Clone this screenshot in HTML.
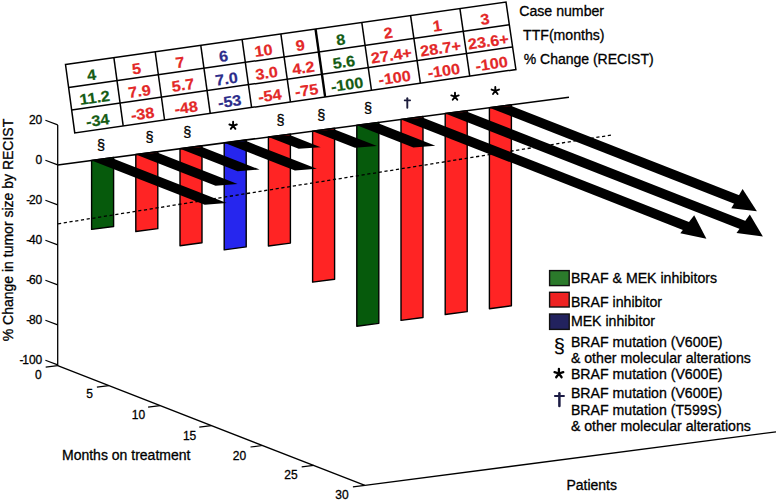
<!DOCTYPE html>
<html><head><meta charset="utf-8"><style>
html,body{margin:0;padding:0;background:#fff;width:778px;height:500px;overflow:hidden}
svg{display:block}
text{font-family:"Liberation Sans",sans-serif;stroke:#000;stroke-width:0.3px}
</style></head><body>
<svg width="778" height="500" viewBox="0 0 778 500">
<rect width="778" height="500" fill="#fff"/>
<line x1="57.7" y1="124.9" x2="57.7" y2="365.9" stroke="#000" stroke-width="1.3"/>
<line x1="45.4" y1="120.3" x2="57.7" y2="124.9" stroke="#000" stroke-width="1.2"/>
<text x="42.3" y="124.3" font-size="12" text-anchor="end">20</text>
<line x1="45.4" y1="160.3" x2="57.7" y2="164.9" stroke="#000" stroke-width="1.2"/>
<text x="42.3" y="164.3" font-size="12" text-anchor="end">0</text>
<line x1="45.4" y1="200.3" x2="57.7" y2="204.9" stroke="#000" stroke-width="1.2"/>
<text x="42.3" y="204.3" font-size="12" text-anchor="end">-<tspan dx="-1.2">20</tspan></text>
<line x1="45.4" y1="240.3" x2="57.7" y2="244.9" stroke="#000" stroke-width="1.2"/>
<text x="42.3" y="244.3" font-size="12" text-anchor="end">-<tspan dx="-1.2">40</tspan></text>
<line x1="45.4" y1="280.3" x2="57.7" y2="284.9" stroke="#000" stroke-width="1.2"/>
<text x="42.3" y="284.3" font-size="12" text-anchor="end">-<tspan dx="-1.2">60</tspan></text>
<line x1="45.4" y1="320.3" x2="57.7" y2="324.9" stroke="#000" stroke-width="1.2"/>
<text x="42.3" y="324.3" font-size="12" text-anchor="end">-<tspan dx="-1.2">80</tspan></text>
<line x1="45.4" y1="360.3" x2="57.7" y2="364.9" stroke="#000" stroke-width="1.2"/>
<text x="42.3" y="364.3" font-size="12" text-anchor="end">-<tspan dx="-1.2">100</tspan></text>
<line x1="57.7" y1="365.7" x2="364.9" y2="485.4" stroke="#000" stroke-width="1.3"/>
<line x1="45.7" y1="367.2" x2="57.7" y2="365.7" stroke="#000" stroke-width="1.2"/>
<line x1="96.9" y1="387.15" x2="108.9" y2="385.65" stroke="#000" stroke-width="1.2"/>
<line x1="148.1" y1="407.1" x2="160.1" y2="405.6" stroke="#000" stroke-width="1.2"/>
<line x1="199.3" y1="427.05" x2="211.3" y2="425.55" stroke="#000" stroke-width="1.2"/>
<line x1="250.5" y1="447" x2="262.5" y2="445.5" stroke="#000" stroke-width="1.2"/>
<line x1="301.7" y1="466.95" x2="313.7" y2="465.45" stroke="#000" stroke-width="1.2"/>
<line x1="352.9" y1="486.9" x2="364.9" y2="485.4" stroke="#000" stroke-width="1.2"/>
<text x="38.3" y="378.5" font-size="12" text-anchor="middle">0</text>
<text x="89.6" y="398.3" font-size="12" text-anchor="middle">5</text>
<text x="138.5" y="418.9" font-size="12" text-anchor="middle">10</text>
<text x="189.6" y="439.9" font-size="12" text-anchor="middle">15</text>
<text x="239.5" y="459.8" font-size="12" text-anchor="middle">20</text>
<text x="290.9" y="479.3" font-size="12" text-anchor="middle">25</text>
<text x="341.9" y="498.8" font-size="12" text-anchor="middle">30</text>
<line x1="364.9" y1="485.4" x2="776" y2="431.79" stroke="#000" stroke-width="1.3"/>
<polygon points="91.6,160.41 113.6,157.49 113.6,226.49 91.6,229.41" fill="#065a0c" stroke="#000" stroke-width="1.4" stroke-linejoin="round"/>
<polygon points="135.8,154.55 157.8,151.64 157.8,228.64 135.8,231.55" fill="#ff2424" stroke="#000" stroke-width="1.4" stroke-linejoin="round"/>
<polygon points="180,148.7 202,145.78 202,242.78 180,245.7" fill="#ff2424" stroke="#000" stroke-width="1.4" stroke-linejoin="round"/>
<polygon points="224.2,142.84 246.2,139.92 246.2,246.92 224.2,249.84" fill="#2626ee" stroke="#000" stroke-width="1.4" stroke-linejoin="round"/>
<polygon points="268.4,136.98 290.4,134.07 290.4,243.07 268.4,245.98" fill="#ff2424" stroke="#000" stroke-width="1.4" stroke-linejoin="round"/>
<polygon points="312.6,131.13 334.6,128.21 334.6,279.21 312.6,282.13" fill="#ff2424" stroke="#000" stroke-width="1.4" stroke-linejoin="round"/>
<polygon points="356.8,125.27 378.8,122.35 378.8,323.35 356.8,326.27" fill="#065a0c" stroke="#000" stroke-width="1.4" stroke-linejoin="round"/>
<polygon points="401,119.41 423,116.5 423,317.5 401,320.41" fill="#ff2424" stroke="#000" stroke-width="1.4" stroke-linejoin="round"/>
<polygon points="445.2,113.56 467.2,110.64 467.2,311.64 445.2,314.56" fill="#ff2424" stroke="#000" stroke-width="1.4" stroke-linejoin="round"/>
<polygon points="489.4,107.7 511.4,104.78 511.4,305.78 489.4,308.7" fill="#ff2424" stroke="#000" stroke-width="1.4" stroke-linejoin="round"/>
<line x1="58" y1="223.8" x2="613" y2="134.8" stroke="#000" stroke-width="1.3" stroke-dasharray="3.2 2.6"/>
<line x1="57.7" y1="164.9" x2="569" y2="97.15" stroke="#000" stroke-width="1.5"/>
<polygon points="91.6,160.41 113.6,158.69 226.72,203.05 204.72,204.76" fill="#000"/>
<polygon points="135.8,154.55 157.8,152.84 237.59,184.12 215.59,185.84" fill="#000"/>
<polygon points="180,148.7 202,146.98 259.57,169.55 237.57,171.27" fill="#000"/>
<polygon points="224.2,142.84 246.2,141.12 316.9,168.84 294.9,170.56" fill="#000"/>
<polygon points="268.4,136.98 290.4,135.27 320.7,147.15 298.7,148.86" fill="#000"/>
<polygon points="312.6,131.13 334.6,129.41 377.02,146.04 355.02,147.76" fill="#000"/>
<polygon points="356.8,125.27 378.8,123.55 435.36,145.73 413.36,147.45" fill="#000"/>
<polygon points="401,119.41 423,117.7 696,224.73 689.87,232.67" fill="#000"/>
<polygon points="445.2,113.56 467.2,111.84 752.02,223.52 746.25,231.59" fill="#000"/>
<polygon points="489.4,107.7 511.4,105.98 745.65,197.83 740.71,206.23" fill="#000"/>
<polygon points="742.6,189.1 731.3,208.3 756.9,211.2" fill="#000"/>
<polygon points="749.8,214.5 736.5,233.1 762.9,236.6" fill="#000"/>
<polygon points="694.2,215.3 680.3,233.3 706.4,238.7" fill="#000"/>
<text x="101" y="149.6" font-size="14.5" text-anchor="middle">§</text>
<text x="149.6" y="142.4" font-size="14.5" text-anchor="middle">§</text>
<text x="187.2" y="136.8" font-size="14.5" text-anchor="middle">§</text>
<path d="M233.1,125.7L233.1,121.8M233.1,125.7L236.81,124.49M233.1,125.7L235.39,128.86M233.1,125.7L230.81,128.86M233.1,125.7L229.39,124.49" stroke="#000" stroke-width="1.9" stroke-linecap="round" fill="none"/>
<text x="280.5" y="124.8" font-size="14.5" text-anchor="middle">§</text>
<text x="321.2" y="119.7" font-size="14.5" text-anchor="middle">§</text>
<text x="368" y="113.2" font-size="14.5" text-anchor="middle">§</text>
<path d="M407.3,98.3V107.7" stroke="#1c1c3c" stroke-width="1.9" stroke-linecap="round"/><path d="M404.6,100.4H410.2" stroke="#1c1c3c" stroke-width="1.6" stroke-linecap="round"/>
<path d="M455,96.6L455,92.7M455,96.6L458.71,95.39M455,96.6L457.29,99.76M455,96.6L452.71,99.76M455,96.6L451.29,95.39" stroke="#000" stroke-width="1.9" stroke-linecap="round" fill="none"/>
<path d="M495.3,90.8L495.3,86.9M495.3,90.8L499.01,89.59M495.3,90.8L497.59,93.96M495.3,90.8L493.01,93.96M495.3,90.8L491.59,89.59" stroke="#000" stroke-width="1.9" stroke-linecap="round" fill="none"/>
<polygon points="65.5,64.5 506,2 515.9,69.5 74.75,132.9" fill="#fff" stroke="#000" stroke-width="1.5" stroke-linejoin="miter"/>
<line x1="68.62" y1="87.55" x2="509.34" y2="24.75" stroke="#000" stroke-width="1.5"/>
<line x1="71.65" y1="109.99" x2="512.58" y2="46.89" stroke="#000" stroke-width="1.5"/>
<line x1="113.87" y1="57.64" x2="123.19" y2="125.94" stroke="#000" stroke-width="1.5"/>
<line x1="155.19" y1="51.77" x2="164.57" y2="119.99" stroke="#000" stroke-width="1.5"/>
<line x1="200.78" y1="45.31" x2="210.23" y2="113.43" stroke="#000" stroke-width="1.5"/>
<line x1="242.1" y1="39.44" x2="251.61" y2="107.48" stroke="#000" stroke-width="1.5"/>
<line x1="280.86" y1="33.94" x2="290.43" y2="101.9" stroke="#000" stroke-width="1.5"/>
<line x1="315.53" y1="29.02" x2="325.15" y2="96.91" stroke="#000" stroke-width="2.4"/>
<line x1="361.78" y1="22.46" x2="371.47" y2="90.26" stroke="#000" stroke-width="1.5"/>
<line x1="410.59" y1="15.54" x2="420.35" y2="83.23" stroke="#000" stroke-width="1.5"/>
<line x1="459.92" y1="8.54" x2="469.76" y2="76.13" stroke="#000" stroke-width="1.5"/>
<text transform="matrix(1.07,-0.1521,0.1359,1,91.25,72.59)" x="0" y="7.6" font-size="15" font-weight="bold" fill="#145c14" style="stroke:#145c14;stroke-width:0.2px" text-anchor="middle">4</text>
<text transform="matrix(1.07,-0.1528,0.1359,1,94.34,95.31)" x="0" y="7.6" font-size="15" font-weight="bold" fill="#145c14" style="stroke:#145c14;stroke-width:0.2px" text-anchor="middle">11.2</text>
<text transform="matrix(1.07,-0.1534,0.1359,1,97.41,117.97)" x="0" y="7.6" font-size="15" font-weight="bold" fill="#145c14" style="stroke:#145c14;stroke-width:0.2px" text-anchor="middle">-34</text>
<text transform="matrix(1.07,-0.1521,0.1370,1,136.10,66.21)" x="0" y="7.6" font-size="15" font-weight="bold" fill="#e32828" style="stroke:#e32828;stroke-width:0.2px" text-anchor="middle">5</text>
<text transform="matrix(1.07,-0.1528,0.1370,1,139.21,88.90)" x="0" y="7.6" font-size="15" font-weight="bold" fill="#e32828" style="stroke:#e32828;stroke-width:0.2px" text-anchor="middle">7.9</text>
<text transform="matrix(1.07,-0.1534,0.1370,1,142.31,111.53)" x="0" y="7.6" font-size="15" font-weight="bold" fill="#e32828" style="stroke:#e32828;stroke-width:0.2px" text-anchor="middle">-38</text>
<text transform="matrix(1.07,-0.1521,0.1381,1,179.57,60.03)" x="0" y="7.6" font-size="15" font-weight="bold" fill="#e32828" style="stroke:#e32828;stroke-width:0.2px" text-anchor="middle">7</text>
<text transform="matrix(1.07,-0.1528,0.1381,1,182.70,82.69)" x="0" y="7.6" font-size="15" font-weight="bold" fill="#e32828" style="stroke:#e32828;stroke-width:0.2px" text-anchor="middle">5.7</text>
<text transform="matrix(1.07,-0.1534,0.1381,1,185.82,105.29)" x="0" y="7.6" font-size="15" font-weight="bold" fill="#e32828" style="stroke:#e32828;stroke-width:0.2px" text-anchor="middle">-48</text>
<text transform="matrix(1.07,-0.1521,0.1392,1,223.03,53.85)" x="0" y="7.6" font-size="15" font-weight="bold" fill="#2c2c8a" style="stroke:#2c2c8a;stroke-width:0.2px" text-anchor="middle">6</text>
<text transform="matrix(1.07,-0.1528,0.1392,1,226.19,76.48)" x="0" y="7.6" font-size="15" font-weight="bold" fill="#2c2c8a" style="stroke:#2c2c8a;stroke-width:0.2px" text-anchor="middle">7.0</text>
<text transform="matrix(1.07,-0.1534,0.1392,1,229.33,99.05)" x="0" y="7.6" font-size="15" font-weight="bold" fill="#2c2c8a" style="stroke:#2c2c8a;stroke-width:0.2px" text-anchor="middle">-53</text>
<text transform="matrix(1.07,-0.1521,0.1403,1,263.09,48.15)" x="0" y="7.6" font-size="15" font-weight="bold" fill="#e32828" style="stroke:#e32828;stroke-width:0.2px" text-anchor="middle">10</text>
<text transform="matrix(1.07,-0.1528,0.1403,1,266.26,70.76)" x="0" y="7.6" font-size="15" font-weight="bold" fill="#e32828" style="stroke:#e32828;stroke-width:0.2px" text-anchor="middle">3.0</text>
<text transform="matrix(1.07,-0.1534,0.1403,1,269.42,93.30)" x="0" y="7.6" font-size="15" font-weight="bold" fill="#e32828" style="stroke:#e32828;stroke-width:0.2px" text-anchor="middle">-54</text>
<text transform="matrix(1.07,-0.1521,0.1412,1,299.81,42.93)" x="0" y="7.6" font-size="15" font-weight="bold" fill="#e32828" style="stroke:#e32828;stroke-width:0.2px" text-anchor="middle">9</text>
<text transform="matrix(1.07,-0.1528,0.1412,1,303.00,65.51)" x="0" y="7.6" font-size="15" font-weight="bold" fill="#e32828" style="stroke:#e32828;stroke-width:0.2px" text-anchor="middle">4.2</text>
<text transform="matrix(1.07,-0.1534,0.1412,1,306.18,88.03)" x="0" y="7.6" font-size="15" font-weight="bold" fill="#e32828" style="stroke:#e32828;stroke-width:0.2px" text-anchor="middle">-75</text>
<text transform="matrix(1.07,-0.1521,0.1423,1,340.28,37.18)" x="0" y="7.6" font-size="15" font-weight="bold" fill="#145c14" style="stroke:#145c14;stroke-width:0.2px" text-anchor="middle">8</text>
<text transform="matrix(1.07,-0.1528,0.1423,1,343.49,59.73)" x="0" y="7.6" font-size="15" font-weight="bold" fill="#145c14" style="stroke:#145c14;stroke-width:0.2px" text-anchor="middle">5.6</text>
<text transform="matrix(1.07,-0.1534,0.1423,1,346.69,82.22)" x="0" y="7.6" font-size="15" font-weight="bold" fill="#145c14" style="stroke:#145c14;stroke-width:0.2px" text-anchor="middle">-100</text>
<text transform="matrix(1.07,-0.1521,0.1435,1,387.82,30.41)" x="0" y="7.6" font-size="15" font-weight="bold" fill="#e32828" style="stroke:#e32828;stroke-width:0.2px" text-anchor="middle">2</text>
<text transform="matrix(1.07,-0.1528,0.1435,1,391.06,52.94)" x="0" y="7.6" font-size="15" font-weight="bold" fill="#e32828" style="stroke:#e32828;stroke-width:0.2px" text-anchor="middle">27.4+</text>
<text transform="matrix(1.07,-0.1534,0.1435,1,394.28,75.40)" x="0" y="7.6" font-size="15" font-weight="bold" fill="#e32828" style="stroke:#e32828;stroke-width:0.2px" text-anchor="middle">-100</text>
<text transform="matrix(1.07,-0.1521,0.1448,1,436.91,23.44)" x="0" y="7.6" font-size="15" font-weight="bold" fill="#e32828" style="stroke:#e32828;stroke-width:0.2px" text-anchor="middle">1</text>
<text transform="matrix(1.07,-0.1528,0.1448,1,440.16,45.93)" x="0" y="7.6" font-size="15" font-weight="bold" fill="#e32828" style="stroke:#e32828;stroke-width:0.2px" text-anchor="middle">28.7+</text>
<text transform="matrix(1.07,-0.1534,0.1448,1,443.41,68.35)" x="0" y="7.6" font-size="15" font-weight="bold" fill="#e32828" style="stroke:#e32828;stroke-width:0.2px" text-anchor="middle">-100</text>
<text transform="matrix(1.07,-0.1521,0.1461,1,484.62,16.65)" x="0" y="7.6" font-size="15" font-weight="bold" fill="#e32828" style="stroke:#e32828;stroke-width:0.2px" text-anchor="middle">3</text>
<text transform="matrix(1.07,-0.1528,0.1461,1,487.90,39.11)" x="0" y="7.6" font-size="15" font-weight="bold" fill="#e32828" style="stroke:#e32828;stroke-width:0.2px" text-anchor="middle">23.6+</text>
<text transform="matrix(1.07,-0.1534,0.1461,1,491.18,61.50)" x="0" y="7.6" font-size="15" font-weight="bold" fill="#e32828" style="stroke:#e32828;stroke-width:0.2px" text-anchor="middle">-100</text>
<text x="519.2" y="15.8" font-size="14.15">Case number</text>
<text x="523.1" y="39.5" font-size="14.1">TTF(months)</text>
<text x="523.7" y="63.6" font-size="14">% Change (RECIST)</text>
<text transform="translate(13.2,341.3) rotate(-90)" font-size="14">% Change in tumor size by RECIST</text>
<text x="62" y="460.2" font-size="14">Months on treatment</text>
<text x="566.4" y="490.2" font-size="14">Patients</text>
<rect x="549.6" y="270.6" width="19.6" height="15" fill="#2b7a2b" stroke="#111" stroke-width="1.4"/>
<rect x="549.6" y="292.3" width="19.6" height="14.7" fill="#ee2222" stroke="#111" stroke-width="1.4"/>
<rect x="549.6" y="314" width="19.6" height="15.4" fill="#22225e" stroke="#111" stroke-width="1.4"/>
<text x="570.9" y="282.9" font-size="14.15">BRAF &amp; MEK inhibitors</text>
<text x="570.9" y="307" font-size="14.15">BRAF inhibitor</text>
<text x="570.9" y="325.5" font-size="14.15">MEK inhibitor</text>
<text x="570.9" y="347.1" font-size="14.15">BRAF mutation (V600E)</text>
<text x="570.9" y="363.3" font-size="14.15">&amp; other molecular alterations</text>
<text x="570.9" y="378.8" font-size="14.15">BRAF mutation (V600E)</text>
<text x="570.9" y="397.6" font-size="14.15">BRAF mutation (V600E)</text>
<text x="570.9" y="414.8" font-size="14.15">BRAF mutation (T599S)</text>
<text x="570.9" y="431" font-size="14.15">&amp; other molecular alterations</text>
<text x="559.3" y="353.4" font-size="20" text-anchor="middle" style="stroke-width:0.15px">§</text>
<path d="M558.9,373.5L558.9,368.9M558.9,373.5L563.27,372.08M558.9,373.5L561.6,377.22M558.9,373.5L556.2,377.22M558.9,373.5L554.53,372.08" stroke="#000" stroke-width="2.3" stroke-linecap="round" fill="none"/>
<path d="M559.4,393.3V406" stroke="#1c1c45" stroke-width="2.5" stroke-linecap="round"/><path d="M554.9,396H564" stroke="#1c1c45" stroke-width="1.9" stroke-linecap="round"/>
</svg>
</body></html>
